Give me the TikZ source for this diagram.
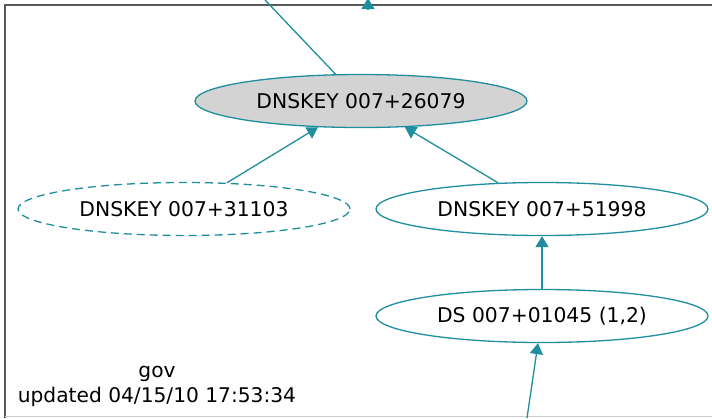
\documentclass[tikz,border=0pt]{standalone}
\usepackage{fontspec}
\setmainfont{DejaVu Sans}
\usetikzlibrary{shapes.geometric,arrows.meta}
\definecolor{dnsteal}{HTML}{1F8E9E}
\definecolor{keygray}{HTML}{D3D3D3}
\tikzstyle{line} = [draw=dnsteal, line width=1.3pt, -{Triangle[length=11pt,width=13pt]}]
\tikzstyle{plain} = [draw=dnsteal, line width=1.3pt]
\tikzstyle{key} = [draw=dnsteal, line width=1.3pt, ellipse, minimum width=332pt, minimum height=53pt, inner sep=0pt, font=\fontsize{20.3}{24}\selectfont]

\begin{document}
\begin{tikzpicture}[x=1pt, y=-1pt]
        \useasboundingbox (0,0) rectangle (712,418);
        % cluster frame
        \draw[black!65, line width=1.5pt] (5,418) -- (5,5) -- (712,5);
        \draw[black!20, line width=1pt] (5,416.5) -- (712,416.5);
        \node[key, fill=keygray] (key26079) at (361,101) {DNSKEY 007+26079};
        \node[key, dash pattern=on 8pt off 5pt] (key31103) at (184,209) {DNSKEY 007+31103};
        \node[key] (key51998) at (542,209) {DNSKEY 007+51998};
        \node[key] (ds01045) at (542,316) {DS 007+01045 (1,2)};
        \node[align=center, font=\fontsize{20.2}{25}\selectfont] (zone) at (157,386) {gov\\updated 04/15/10 17:53:34};
        \coordinate (topin) at (265,0);
        \coordinate (topbase) at (368,9);
        \coordinate (toptip) at (368,-2);
        \coordinate (bottomin) at (527,418);
        \path[plain] (topin) -- (key26079);
        \path[line] (topbase) -- (toptip);
        \path[line] (key31103) -- (key26079);
        \path[line] (key51998) -- (key26079);
        \path[line] (ds01045) -- (key51998);
        \path[line] (bottomin) -- (ds01045);
    \end{tikzpicture}
\end{document}
